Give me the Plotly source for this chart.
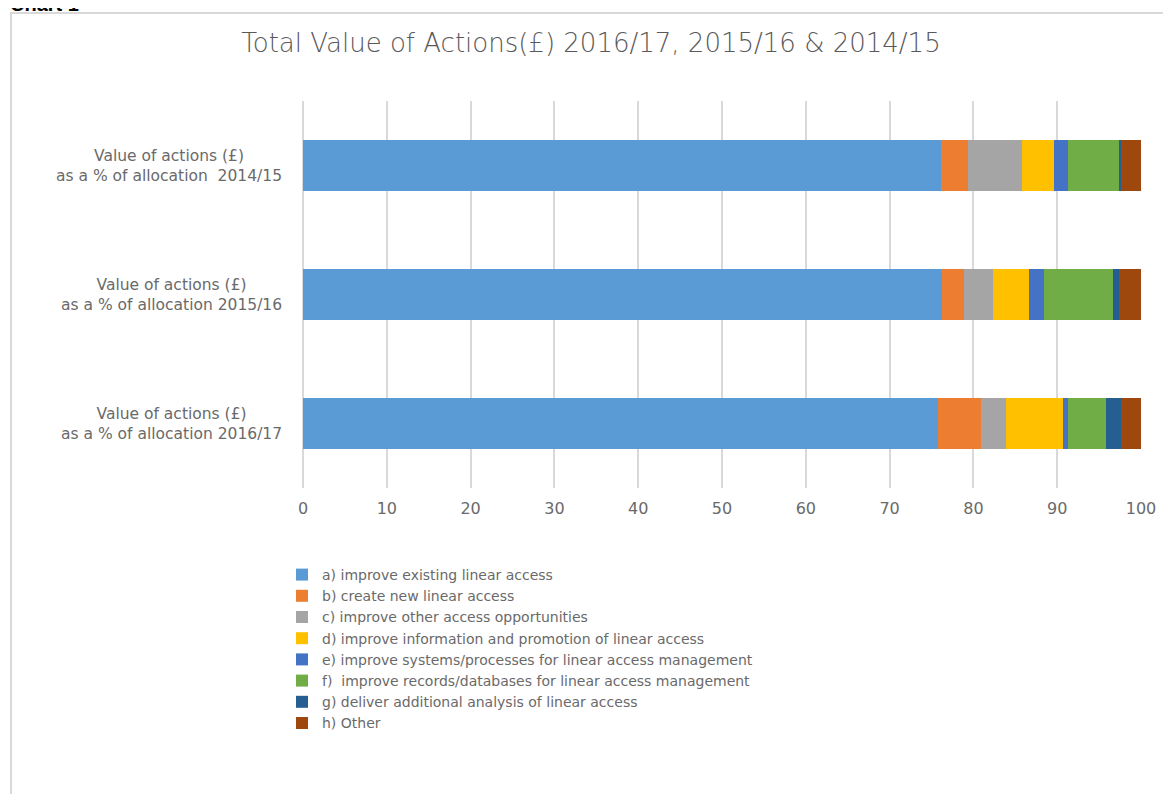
import plotly.graph_objects as go

categories = ["2014/15", "2015/16", "2016/17"]
category_labels = [
    "Value of actions (£)<br>as a % of allocation&nbsp; 2014/15",
    "Value of actions (£)<br>as a % of allocation 2015/16",
    "Value of actions (£)<br>as a % of allocation 2016/17",
]
series_names = [
    "a) improve existing linear access",
    "b) create new linear access",
    "c) improve other access opportunities",
    "d) improve information and promotion of linear access",
    "e) improve systems/processes for linear access management",
    "f)&nbsp; improve records/databases for linear access management",
    "g) deliver additional analysis of linear access",
    "h) Other",
]
# values per series, in the order of categories (2014/15, 2015/16, 2016/17)
a_vals = [76.1, 76.25, 75.8]
b_vals = [3.2, 2.6, 5.1]
c_vals = [6.5, 3.5, 3.0]
d_vals = [3.85, 4.3, 6.85]
e_vals = [1.6, 1.75, 0.5]
f_vals = [6.1, 8.3, 4.6]
g_vals = [0.3, 0.7, 1.8]
h_vals = [2.35, 2.6, 2.35]
series_values = [a_vals, b_vals, c_vals, d_vals, e_vals, f_vals, g_vals, h_vals]
colors = ["#5B9BD5", "#ED7D31", "#A5A5A5", "#FFC000", "#4472C4", "#70AD47", "#255E91", "#9E480E"]
x_ticks = [0, 10, 20, 30, 40, 50, 60, 70, 80, 90, 100]

FONT = "DejaVu Sans, Open Sans, sans-serif"
GREY = "#595959"
TEXT = "#6a6a6a"

fig = go.Figure()
for name, vals, col in zip(series_names, series_values, colors):
    fig.add_trace(go.Bar(
        y=categories, x=vals, name=name, orientation="h",
        marker=dict(color=col, line=dict(width=0)),
    ))

# page has an 8px body margin
OFF = 8
W, H = 1171 - OFF, 794 - OFF
PL, PR, PT, PB = 303, 1141, 101, 488  # plot area in page pixels
L, T = PL - OFF, PT - OFF
R, B = W - (PR - OFF), H - (PB - OFF)
pw, ph = PR - PL, PB - PT

def px_x(px):
    return (px - PL) / pw

def px_y(py):
    return (PB - py) / ph

annotations = []
for cat, lab in zip(categories, category_labels):
    annotations.append(dict(
        x=px_x(284), xref="paper", y=cat, yref="y", xanchor="right", yanchor="middle",
        text=lab, showarrow=False, align="center",
        font=dict(family=FONT, size=15.5, color=TEXT),
    ))
annotations.append(dict(
    x=px_x(8), xref="paper", y=px_y(17), yref="paper", xanchor="left", yanchor="bottom",
    text="<b>Chart 1</b>", showarrow=False,
    font=dict(family="Liberation Sans, Arial, sans-serif", size=20, color="#000000"),
))

fig.update_layout(
    width=W, height=H,
    margin=dict(l=L, r=R, t=T, b=B, autoexpand=False),
    paper_bgcolor="white", plot_bgcolor="white",
    barmode="stack", bargap=0.605,
    title=dict(
        text="Total Value of Actions(£) 2016/17, 2015/16 &amp; 2014/15",
        x=(591 - OFF) / W, xref="container", xanchor="center",
        y=1 - (43 - OFF) / H, yref="container", yanchor="middle",
        font=dict(family=FONT, size=26, color=GREY, weight=300),
    ),
    xaxis=dict(
        range=[0, 100], tickvals=x_ticks, showgrid=True, gridcolor="#D9D9D9", gridwidth=1.5,
        zeroline=True, zerolinecolor="#D9D9D9", zerolinewidth=1.5,
        showline=False, ticks="", ticklabelstandoff=9,
        tickfont=dict(family=FONT, size=16, color=TEXT), fixedrange=True,
    ),
    yaxis=dict(
        categoryorder="array", categoryarray=categories, autorange="reversed",
        showticklabels=False, showgrid=False, zeroline=False, ticks="", showline=False,
    ),
    legend=dict(
        x=px_x(282), xanchor="left", y=px_y(559), yanchor="top",
        orientation="v", traceorder="normal", itemclick=False,
        font=dict(family=FONT, size=14, color=TEXT), bgcolor="rgba(0,0,0,0)",
        tracegroupgap=0,
    ),
    annotations=annotations,
    shapes=[dict(
        type="rect", xref="paper", yref="paper",
        x0=px_x(11), x1=px_x(1190), y0=px_y(820), y1=px_y(13),
        line=dict(color="#D9D9D9", width=2), fillcolor="rgba(0,0,0,0)", layer="below",
    )],
)

fig.write_html("out.html")
